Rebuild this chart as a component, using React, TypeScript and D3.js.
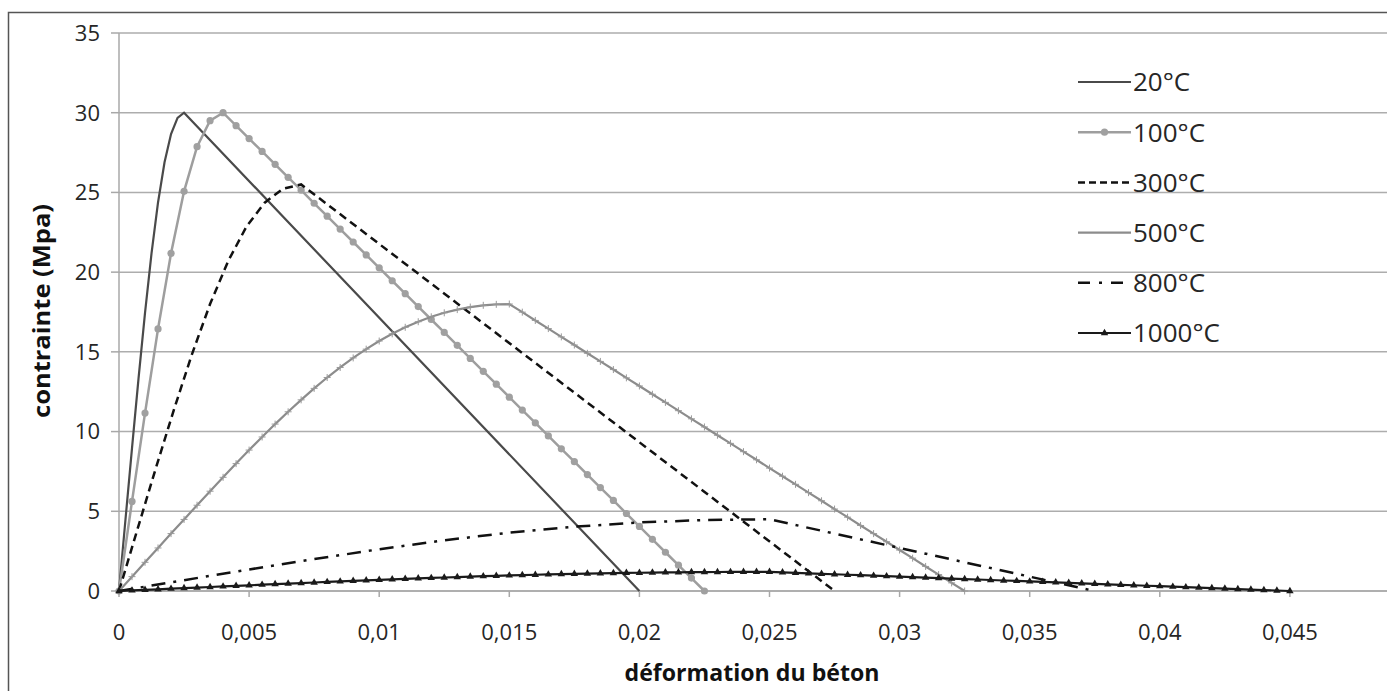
import React from 'react'
import * as d3 from 'd3'

// strain grid used by the series drawn with markers (step 0.0005)
const strainGrid = [
  0, 0.0005, 0.001, 0.0015, 0.002, 0.0025, 0.003, 0.0035, 0.004, 0.0045,
  0.005, 0.0055, 0.006, 0.0065, 0.007, 0.0075, 0.008, 0.0085, 0.009, 0.0095,
  0.01, 0.0105, 0.011, 0.0115, 0.012, 0.0125, 0.013, 0.0135, 0.014, 0.0145,
  0.015, 0.0155, 0.016, 0.0165, 0.017, 0.0175, 0.018, 0.0185, 0.019, 0.0195,
  0.02, 0.0205, 0.021, 0.0215, 0.022, 0.0225, 0.023, 0.0235, 0.024, 0.0245,
  0.025, 0.0255, 0.026, 0.0265, 0.027, 0.0275, 0.028, 0.0285, 0.029, 0.0295,
  0.03, 0.0305, 0.031, 0.0315, 0.032, 0.0325, 0.033, 0.0335, 0.034, 0.0345,
  0.035, 0.0355, 0.036, 0.0365, 0.037, 0.0375, 0.038, 0.0385, 0.039, 0.0395,
  0.04, 0.0405, 0.041, 0.0415, 0.042, 0.0425, 0.043, 0.0435, 0.044, 0.0445,
  0.045,
]

// 20°C
const strain20 = [0, 0.00025, 0.0005, 0.00075, 0.001, 0.00125, 0.0015, 0.00175, 0.002, 0.00225, 0.0025, 0.02]
const stress20 = [0, 4.5, 8.96, 13.32, 17.44, 21.18, 24.37, 26.89, 28.66, 29.68, 30, 0]

// 100°C (on strainGrid)
const stress100 = [
  0, 5.62, 11.16, 16.44, 21.18, 25.07, 27.87, 29.5, 30, 29.19,
  28.38, 27.57, 26.76, 25.95, 25.14, 24.32, 23.51, 22.7, 21.89, 21.08,
  20.27, 19.46, 18.65, 17.84, 17.03, 16.22, 15.41, 14.59, 13.78, 12.97,
  12.16, 11.35, 10.54, 9.73, 8.92, 8.11, 7.3, 6.49, 5.68, 4.86,
  4.05, 3.24, 2.43, 1.62, 0.81, 0,
]

// 300°C
const strain300 = [0, 0.0007, 0.0014, 0.0021, 0.0028, 0.0035, 0.0042, 0.0049, 0.0056, 0.0063, 0.007, 0.0275]
const stress300 = [0, 3.82, 7.62, 11.32, 14.83, 18.0, 20.71, 22.86, 24.36, 25.23, 25.5, 0]

// 500°C (on strainGrid)
const stress500 = [
  0, 0.9, 1.8, 2.7, 3.6, 4.49, 5.38, 6.26, 7.13, 7.99,
  8.84, 9.66, 10.47, 11.24, 11.99, 12.71, 13.39, 14.02, 14.62, 15.17,
  15.68, 16.13, 16.54, 16.89, 17.2, 17.45, 17.65, 17.81, 17.92, 17.98,
  18, 17.49, 16.97, 16.46, 15.94, 15.43, 14.91, 14.4, 13.89, 13.37,
  12.86, 12.34, 11.83, 11.31, 10.8, 10.29, 9.77, 9.26, 8.74, 8.23,
  7.71, 7.2, 6.69, 6.17, 5.66, 5.14, 4.63, 4.11, 3.6, 3.09,
  2.57, 2.06, 1.54, 1.03, 0.51, 0,
]

// 800°C
const strain800 = [0, 0.0025, 0.005, 0.0075, 0.01, 0.0125, 0.015, 0.0175, 0.02, 0.0225, 0.025, 0.0375]
const stress800 = [0, 0.68, 1.35, 2.0, 2.62, 3.18, 3.66, 4.03, 4.3, 4.45, 4.5, 0]

// 1000°C (on strainGrid)
const stress1000 = [
  0, 0.036, 0.072, 0.108, 0.144, 0.18, 0.216, 0.252, 0.287, 0.323,
  0.359, 0.394, 0.429, 0.464, 0.499, 0.533, 0.567, 0.6, 0.633, 0.666,
  0.698, 0.729, 0.76, 0.79, 0.819, 0.847, 0.875, 0.901, 0.927, 0.951,
  0.975, 0.997, 1.019, 1.039, 1.058, 1.076, 1.092, 1.108, 1.122, 1.135,
  1.146, 1.157, 1.166, 1.174, 1.181, 1.187, 1.192, 1.196, 1.198, 1.2,
  1.2, 1.17, 1.14, 1.11, 1.08, 1.05, 1.02, 0.99, 0.96, 0.93,
  0.9, 0.87, 0.84, 0.81, 0.78, 0.75, 0.72, 0.69, 0.66, 0.63,
  0.6, 0.57, 0.54, 0.51, 0.48, 0.45, 0.42, 0.39, 0.36, 0.33,
  0.3, 0.27, 0.24, 0.21, 0.18, 0.15, 0.12, 0.09, 0.06, 0.03,
  0,
]

const xTicks = [0, 0.005, 0.01, 0.015, 0.02, 0.025, 0.03, 0.035, 0.04, 0.045]
const yTicks = [0, 5, 10, 15, 20, 25, 30, 35]
const legendLabels = ['20°C', '100°C', '300°C', '500°C', '800°C', '1000°C']

const FONT = '"Open Sans", sans-serif'

type Pt = [number, number]
const zip = (xs: number[], ys: number[]): Pt[] => ys.map((y, i) => [xs[i], y])

export default function App() {
  const W = 1387
  const H = 691

  // axis geometry
  const x = d3.scaleLinear().domain([0, 0.05]).range([119, 1420])
  const y = d3.scaleLinear().domain([0, 35]).range([591, 33])

  const line = d3.line<Pt>().x(d => x(d[0])).y(d => y(d[1]))

  const s20 = zip(strain20, stress20)
  const s100 = zip(strainGrid, stress100)
  const s300 = zip(strain300, stress300)
  const s500 = zip(strainGrid, stress500)
  const s800 = zip(strain800, stress800)
  const s1000 = zip(strainGrid, stress1000)

  const tri = d3.symbol(d3.symbolTriangle, 24)()
  const fmt = (v: number) => String(v).replace('.', ',')

  const legendY = d3.scalePoint<string>().domain(legendLabels).range([82, 333])

  return (
    <svg width={W} height={H} style={{position: 'absolute', left: 0, top: 0, background: '#fff'}}>
      <rect x={8.5} y={12.5} width={1400} height={700} fill="#fff" stroke="#555" strokeWidth={1.5}/>

      {/* gridlines */}
      {yTicks.map(t => (
        <line key={'g' + t} x1={x(0)} x2={x(0.05)} y1={y(t)} y2={y(t)} stroke="#adadad" strokeWidth={1.5}/>
      ))}
      {/* y axis */}
      <line x1={x(0)} x2={x(0)} y1={y(35)} y2={y(0)} stroke="#a8a8a8" strokeWidth={1.5}/>
      {yTicks.map(t => (
        <g key={'y' + t}>
          <line x1={x(0) - 8} x2={x(0)} y1={y(t)} y2={y(t)} stroke="#a8a8a8" strokeWidth={1.5}/>
          <text x={100} y={y(t)} dy="0.36em" textAnchor="end" fontFamily={FONT} fontSize={22} fill="#262626">{t}</text>
        </g>
      ))}
      {/* x axis */}
      <line x1={x(0)} x2={x(0.05)} y1={y(0)} y2={y(0)} stroke="#a8a8a8" strokeWidth={1.5}/>
      {xTicks.map(t => (
        <g key={'x' + t}>
          <line x1={x(t)} x2={x(t)} y1={y(0)} y2={y(0) + 6} stroke="#a8a8a8" strokeWidth={1.5}/>
          <text x={x(t)} y={640} textAnchor="middle" fontFamily={FONT} fontSize={22} fill="#262626">{fmt(t)}</text>
        </g>
      ))}

      <text x={752} y={681} textAnchor="middle" fontFamily={FONT} fontSize={23} fontWeight="bold" fill="#111"
        textLength={255} lengthAdjust="spacingAndGlyphs">déformation du béton</text>
      <text transform="translate(50,311) rotate(-90)" textAnchor="middle" fontFamily={FONT} fontSize={23} fontWeight="bold" fill="#111"
        textLength={214} lengthAdjust="spacingAndGlyphs">contrainte (Mpa)</text>

      {/* 20°C */}
      <path d={line(s20) || ''} fill="none" stroke="#4a4a4a" strokeWidth={2.2}/>

      {/* 100°C */}
      <path d={line(s100) || ''} fill="none" stroke="#9e9e9e" strokeWidth={2.5}/>
      {s100.map((d, i) => (
        <circle key={'c' + i} cx={x(d[0])} cy={y(d[1])} r={3.6} fill="#a0a0a0"/>
      ))}

      {/* 300°C */}
      <path d={line(s300) || ''} fill="none" stroke="#111" strokeWidth={2.5} strokeDasharray="8,5"/>

      {/* 500°C */}
      <path d={line(s500) || ''} fill="none" stroke="#8c8c8c" strokeWidth={2.2}/>
      {s500.map((d, i) => (
        <path key={'p' + i} transform={`translate(${x(d[0])},${y(d[1])})`} d="M-3.5,0H3.5M0,-3.5V3.5" stroke="#999" strokeWidth={1}/>
      ))}

      {/* 800°C */}
      <path d={line(s800) || ''} fill="none" stroke="#111" strokeWidth={2.5} strokeDasharray="14,8,3,8"/>

      {/* 1000°C */}
      <path d={line(s1000) || ''} fill="none" stroke="#1a1a1a" strokeWidth={2.2}/>
      {s1000.map((d, i) => (
        <path key={'t' + i} transform={`translate(${x(d[0])},${y(d[1])})`} d={tri || ''} fill="#1a1a1a"/>
      ))}

      {/* legend */}
      {legendLabels.map((lab, i) => {
        const ly = legendY(lab) || 0
        const x1 = 1078
        const x2 = 1131
        return (
          <g key={'l' + lab}>
            {i === 0 && <line x1={x1} x2={x2} y1={ly} y2={ly} stroke="#4a4a4a" strokeWidth={2.2}/>}
            {i === 1 && <>
              <line x1={x1} x2={x2} y1={ly} y2={ly} stroke="#9e9e9e" strokeWidth={2.5}/>
              <circle cx={(x1 + x2) / 2} cy={ly} r={3.6} fill="#a0a0a0"/>
            </>}
            {i === 2 && <line x1={x1} x2={x2} y1={ly} y2={ly} stroke="#111" strokeWidth={2.5} strokeDasharray="7,4"/>}
            {i === 3 && <line x1={x1} x2={x2} y1={ly} y2={ly} stroke="#8c8c8c" strokeWidth={2.2}/>}
            {i === 4 && <line x1={x1} x2={x2} y1={ly} y2={ly} stroke="#111" strokeWidth={2.5} strokeDasharray="12,9,3,9"/>}
            {i === 5 && <>
              <line x1={x1} x2={x2} y1={ly} y2={ly} stroke="#1a1a1a" strokeWidth={2.2}/>
              <path transform={`translate(${(x1 + x2) / 2},${ly})`} d={tri || ''} fill="#1a1a1a"/>
            </>}
            <text x={x2 + 2} y={ly} dy="0.36em" fontFamily={FONT} fontSize={26} fill="#262626">{lab}</text>
          </g>
        )
      })}
    </svg>
  )
}
